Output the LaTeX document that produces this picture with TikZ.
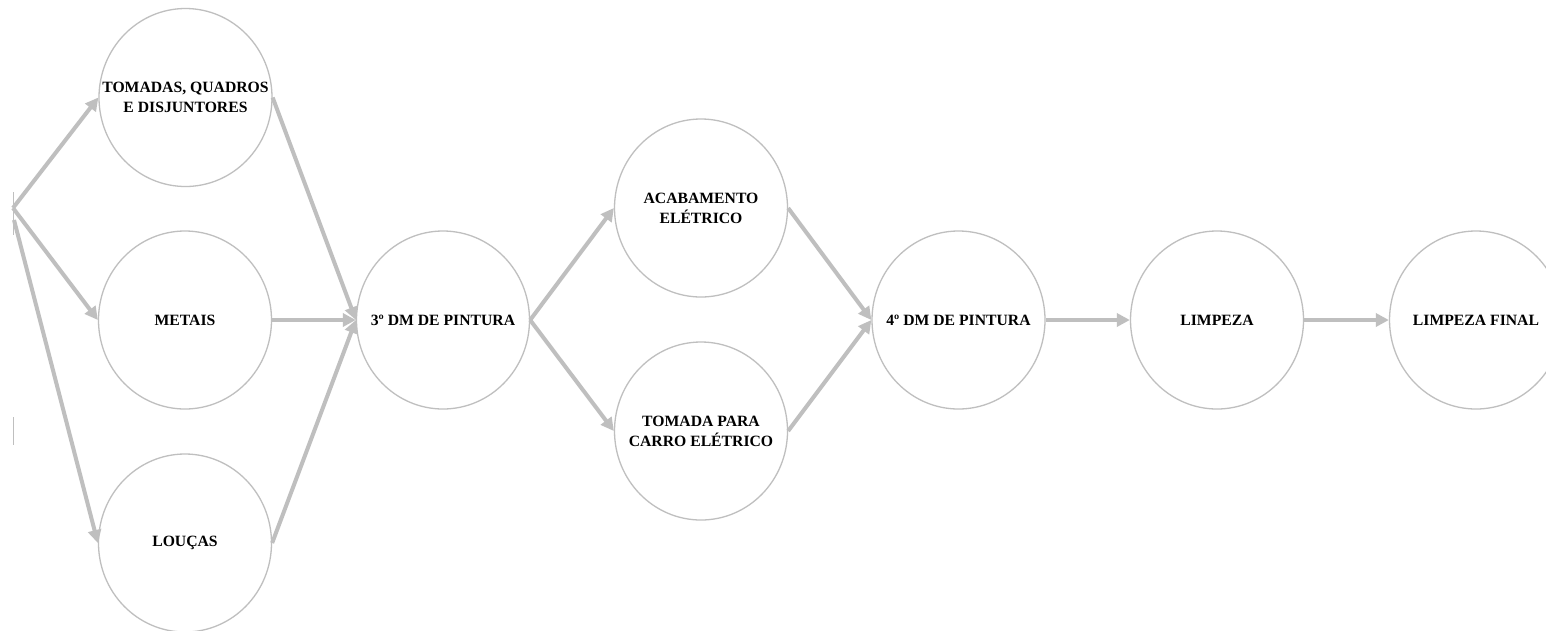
\documentclass[tikz,border=0pt]{standalone}
\usepackage{fontspec}
\setmainfont{Liberation Serif}
\usetikzlibrary{arrows.meta,shapes.geometric}

\definecolor{linegray}{HTML}{BFBFBF}

\tikzset{
  stage/.style={ellipse, draw=linegray, line width=1.3pt, fill=white,
    minimum width=173pt, minimum height=178pt, inner sep=0pt},
  caption/.style={align=center, text=black, inner sep=0pt,
    font=\bfseries\fontsize{15.7}{20}\selectfont},
  flow/.style={draw=linegray, line width=4pt,
    -{Triangle[length=13pt,width=13pt]}},
  edge/.style={draw=linegray, line width=1pt}
}

\begin{document}
\begin{tikzpicture}[x=1pt, y=-1pt]
  \clip (0,0) rectangle (1546,630);
  \fill[white] (0,0) rectangle (1546,630);

  % stages
  \node[stage] (tom)  at (185.5,97.5) {};
  \node[stage] (met)  at (185,320)    {};
  \node[stage] (lou)  at (185,543)    {};
  \node[stage] (dm3)  at (443,320)    {};
  \node[stage] (aca)  at (701,208)    {};
  \node[stage] (car)  at (701,431)    {};
  \node[stage] (dm4)  at (958.5,320)  {};
  \node[stage] (lim)  at (1217,320)   {};
  \node[stage] (limf) at (1476,320)   {};

  % stage names
  \node[caption] (tomT)  at (tom)  {TOMADAS, QUADROS\\E DISJUNTORES};
  \node[caption] (metT)  at (met)  {METAIS};
  \node[caption] (louT)  at (lou)  {LOUÇAS};
  \node[caption] (dm3T)  at (dm3)  {3º DM DE PINTURA};
  \node[caption] (acaT)  at (aca)  {ACABAMENTO\\ELÉTRICO};
  \node[caption] (carT)  at (car)  {TOMADA PARA\\CARRO ELÉTRICO};
  \node[caption] (dm4T)  at (dm4)  {4º DM DE PINTURA};
  \node[caption] (limT)  at (lim)  {LIMPEZA};
  \node[caption] (limfT) at (limf) {LIMPEZA FINAL};

  % edge of the preceding block
  \coordinate (srcA) at (13,208);
  \coordinate (srcB) at (14,220);
  \coordinate (bt1) at (13,192);
  \coordinate (bb1) at (13,235);
  \coordinate (bt2) at (13,417);
  \coordinate (bb2) at (13,445);
  \draw[edge] (bt1) -- (bb1);
  \draw[edge] (bt2) -- (bb2);

  % connectors
  \draw[flow] (srcA) -- (tom.west);
  \draw[flow] (srcA) -- (met.west);
  \draw[flow] (srcB) -- (lou.west);
  \draw[flow] (tom.east) -- (dm3.west);
  \draw[flow] (met.east) -- (dm3.west);
  \draw[flow] (lou.east) -- (dm3.west);
  \draw[flow] (dm3.east) -- (aca.west);
  \draw[flow] (dm3.east) -- (car.west);
  \draw[flow] (aca.east) -- (dm4.west);
  \draw[flow] (car.east) -- (dm4.west);
  \draw[flow] (dm4.east) -- (lim.west);
  \draw[flow] (lim.east) -- (limf.west);
\end{tikzpicture}
\end{document}
